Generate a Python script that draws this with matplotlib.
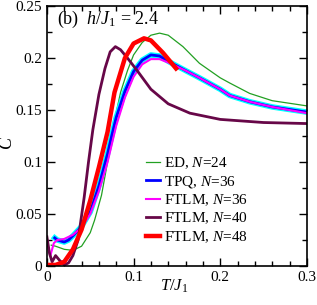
import numpy as np
import matplotlib
matplotlib.use("Agg")
import matplotlib.pyplot as plt
from matplotlib.ticker import MultipleLocator

# ED, N=24
ed_T = [0.005, 0.01, 0.02, 0.03, 0.04, 0.05, 0.055, 0.063, 0.07, 0.078, 0.085, 0.093, 0.1, 0.11, 0.12, 0.13, 0.14, 0.157, 0.176, 0.2, 0.211, 0.234, 0.26, 0.3]
ed_C = [0.020, 0.019, 0.016, 0.015, 0.019, 0.032, 0.044, 0.068, 0.100, 0.140, 0.167, 0.188, 0.203, 0.215, 0.222, 0.224, 0.222, 0.211, 0.195, 0.181, 0.176, 0.166, 0.159, 0.154]

# TPQ, N=36
tpq_T = [0.009, 0.012, 0.02, 0.025, 0.03, 0.04, 0.05, 0.06, 0.07, 0.075, 0.08, 0.09, 0.1, 0.11, 0.12, 0.13, 0.142, 0.16, 0.176, 0.2, 0.211, 0.234, 0.26, 0.3]
tpq_C = [0.027, 0.025, 0.023, 0.025, 0.029, 0.038, 0.052, 0.077, 0.108, 0.126, 0.143, 0.168, 0.187, 0.198, 0.203, 0.202, 0.196, 0.188, 0.181, 0.170, 0.164, 0.158, 0.153, 0.148]

# FTLM, N=36
f36_T = [0.004, 0.008, 0.012, 0.02, 0.03, 0.04, 0.05, 0.06, 0.07, 0.08, 0.09, 0.1, 0.11, 0.12, 0.13, 0.142, 0.16, 0.176, 0.2, 0.211, 0.234, 0.26, 0.3]
f36_C = [0.010, 0.022, 0.025, 0.026, 0.030, 0.037, 0.050, 0.072, 0.100, 0.135, 0.162, 0.182, 0.194, 0.199, 0.199, 0.195, 0.188, 0.181, 0.170, 0.164, 0.158, 0.153, 0.147]

# FTLM, N=40
f40_T = [0.0, 0.003, 0.006, 0.01, 0.015, 0.02, 0.025, 0.03, 0.036, 0.043, 0.048, 0.053, 0.06, 0.067, 0.073, 0.079, 0.085, 0.093, 0.105, 0.12, 0.14, 0.165, 0.2, 0.25, 0.3]
f40_C = [0.028, 0.012, 0.004, 0.010, 0.005, 0.001, 0.003, 0.010, 0.025, 0.066, 0.100, 0.131, 0.165, 0.190, 0.206, 0.211, 0.208, 0.200, 0.187, 0.170, 0.156, 0.147, 0.141, 0.138, 0.137]

# FTLM, N=48
f48_T = [0.0, 0.01, 0.02, 0.03, 0.04, 0.05, 0.06, 0.07, 0.078, 0.09, 0.1, 0.112, 0.12, 0.134, 0.149]
f48_C = [0.001, 0.001, 0.004, 0.016, 0.035, 0.063, 0.095, 0.129, 0.167, 0.200, 0.214, 0.219, 0.217, 0.205, 0.190]

x_ticks = [0, 0.1, 0.2, 0.3]
x_labels = ['0', '0.1', '0.2', '0.3']
y_ticks = [0, 0.05, 0.1, 0.15, 0.2, 0.25]
y_labels = ['0', '0.05', '0.1', '0.15', '0.2', '0.25']

plt.rcParams['font.family'] = ['Liberation Serif', 'DejaVu Serif']
plt.rcParams['mathtext.fontset'] = 'custom'
plt.rcParams['mathtext.it'] = 'Liberation Serif:italic'
plt.rcParams['mathtext.rm'] = 'Liberation Serif'

fig = plt.figure(figsize=(3.17, 3.05), dpi=100)
ax = fig.add_axes([0.148, 0.128, 0.820, 0.852])

ax.plot(ed_T, ed_C, color='#22a022', lw=0.9, label=r'ED, $N$=24')
ax.plot(tpq_T, tpq_C, color='#00ffff', lw=4.0)
ax.plot(tpq_T, tpq_C, color='#0000ff', lw=2.0, label=r'TPQ, $N$=36')
ax.plot(f36_T, f36_C, color='#ff00ff', lw=1.5, label=r'FTLM, $N$=36')
ax.plot(f40_T, f40_C, color='#670748', lw=2.0, label=r'FTLM, $N$=40')
ax.plot(f48_T, f48_C, color='#ff0000', lw=3.2, label=r'FTLM, $N$=48')

ax.set_xlim(0, 0.3)
ax.set_ylim(0, 0.25)
ax.set_xticks(x_ticks)
ax.set_xticklabels(x_labels)
ax.set_yticks(y_ticks)
ax.set_yticklabels(y_labels)
ax.xaxis.set_minor_locator(MultipleLocator(0.02))
ax.yaxis.set_minor_locator(MultipleLocator(0.025))
ax.tick_params(which='both', direction='in', top=True, right=True, labelsize=11, width=1.0)
ax.tick_params(which='major', length=6)
ax.tick_params(which='minor', length=3.5)
for s in ax.spines.values():
    s.set_linewidth(1.2)

ax.set_xlabel(r'$T/J_1$', fontsize=12)
ax.set_ylabel(r'$C$', fontsize=13)
ax.xaxis.set_label_coords(0.49, -0.045)
ax.yaxis.set_label_coords(-0.12, 0.473)

ax.text(0.04, 0.93, r'(b)  $h/J_1$ = 2.4', transform=ax.transAxes, fontsize=13)

leg = ax.legend(loc='lower left', bbox_to_anchor=(0.34, 0.04), frameon=False,
                fontsize=11, handlelength=0.9, handletextpad=0.3,
                labelspacing=0.18, borderpad=0.2)

fig.savefig('out.png', dpi=100)
